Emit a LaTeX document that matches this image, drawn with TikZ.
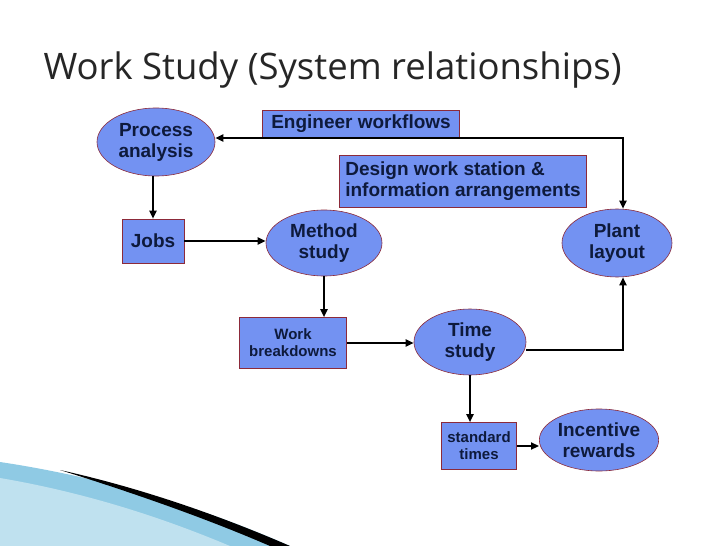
\documentclass[tikz,border=0pt]{standalone}
\usepackage{fontspec}
\setmainfont{Liberation Sans}
\newfontfamily\titlefont{Open Sans}
\usetikzlibrary{shapes.geometric,arrows.meta}
\definecolor{boxblue}{HTML}{7392F2}
\definecolor{shadowred}{HTML}{8C2A3A}
\definecolor{textnavy}{HTML}{0E1A3C}
\definecolor{swoosh}{HTML}{5FB4D8}
\begin{document}
\begin{tikzpicture}
[
	x = 1pt, y = -1pt,
	base/.style =
	{
		fill = boxblue, draw = shadowred, line width = 0.6pt,
		text = textnavy, font = \bfseries\fontsize{19}{21}\selectfont,
		align = center, inner sep = 1pt
	},
	oval/.style 	= {base, ellipse},
	boxnode/.style 	= {base, rectangle},
	flow/.style 	= {-{Triangle[length=8pt,width=7pt]}, line width = 1.8pt},
]

\useasboundingbox (0,0) rectangle (728,546);
\fill [white] (0,0) rectangle (728,546);

% title
\node (title) [anchor = west, font = \titlefont\fontsize{36.5}{40}\selectfont, text = black!85]
	at (40,70) {Work Study (System relationships)};

% slide decoration
\fill [swoosh!70] (0,462) .. controls (120,480) and (220,515) .. (290,546) -- (0,546) -- cycle;
\fill [swoosh!40] (0,478) .. controls (100,495) and (180,525) .. (230,546) -- (0,546) -- cycle;
\fill [black] (60,470) .. controls (150,490) and (230,520) .. (290,546) -- (270,546) .. controls (210,520) and (140,495) .. (60,470) -- cycle;

% nodes
\node (process) [oval, minimum width = 118, minimum height = 68] at (156,142) {Process\\analysis};
\node (engineer) [boxnode, minimum width = 197, minimum height = 27] at (361,124) {Engineer workflows};
\node (design) [boxnode, minimum width = 247, minimum height = 52, align = left] at (463,181) {Design work station \&\\information arrangements};
\node (plant) [oval, minimum width = 110, minimum height = 68] at (617,243) {Plant\\layout};
\node (jobs) [boxnode, minimum width = 62, minimum height = 44] at (153,241) {Jobs};
\node (method) [oval, minimum width = 116, minimum height = 66] at (324,243) {Method\\study};
\node (work) [boxnode, minimum width = 107, minimum height = 51, font = \bfseries\fontsize{15}{17}\selectfont] at (293,343) {Work\\breakdowns};
\node (time) [oval, minimum width = 112, minimum height = 66] at (470,342) {Time\\study};
\node (standard) [boxnode, minimum width = 75, minimum height = 47, font = \bfseries\fontsize{15}{17}\selectfont] at (479,446) {standard\\times};
\node (incentive) [oval, minimum width = 104, minimum height = 62] at (599,440) {Incentive\\rewards};

% connectors
\coordinate (corner) at (623,138);
\draw [flow, {Triangle[length=8pt,width=7pt]}-{Triangle[length=8pt,width=7pt]}] (process.east |- corner) -- (corner) -- (corner |- plant.north);
\draw [flow] (process.south -| jobs) -- (jobs.north);
\draw [flow] (jobs.east) -- (jobs.east -| method.west);
\draw [flow] (method.south) -- (work.north -| method.south);
\draw [flow] (work.east) -- (work.east -| time.west);
\coordinate (turn) at (623,350);
\draw [flow] (time.east |- turn) -- (turn) -- (turn |- plant.south);
\draw [flow] (time.south) -- (time.south |- standard.north);
\draw [flow] (standard.east) -- (standard.east -| incentive.west);

\end{tikzpicture}
\end{document}
